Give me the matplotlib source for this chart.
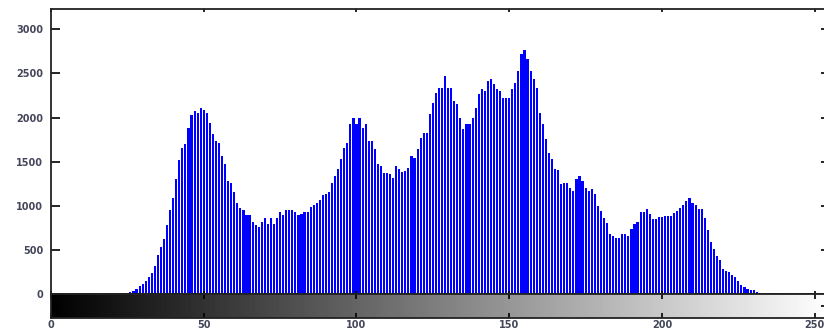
import numpy as np
import matplotlib
matplotlib.use('Agg')
import matplotlib.pyplot as plt

# histogram counts for gray levels 0..255
counts = [
    0, 0, 0, 0, 0, 0, 0, 0, 0, 0, 0, 0, 0, 0, 0, 0,
    0, 0, 0, 0, 2, 3, 4, 6, 8, 12, 25, 35, 60, 86, 112, 150,
    195, 240, 320, 437, 532, 627, 779, 949, 1090, 1298, 1518, 1659, 1696, 1886, 2026, 2075,
    2056, 2113, 2086, 2056, 1943, 1810, 1735, 1716, 1565, 1470, 1280, 1253, 1158, 1026, 970, 950,
    893, 893, 818, 780, 761, 818, 856, 799, 856, 799, 856, 931, 890, 950, 950, 950,
    931, 893, 912, 931, 931, 988, 1007, 1026, 1064, 1120, 1139, 1155, 1253, 1336, 1412, 1526,
    1659, 1716, 1923, 1990, 1925, 1995, 1886, 1923, 1734, 1734, 1640, 1469, 1450, 1374, 1374, 1355,
    1318, 1450, 1412, 1382, 1390, 1431, 1563, 1545, 1640, 1772, 1829, 1829, 2037, 2170, 2283, 2340,
    2330, 2472, 2340, 2340, 2188, 2151, 2000, 1866, 1923, 1923, 2000, 2113, 2264, 2321, 2302, 2416,
    2434, 2378, 2321, 2302, 2227, 2227, 2227, 2321, 2397, 2529, 2718, 2768, 2662, 2529, 2434, 2340,
    2056, 1923, 1753, 1602, 1526, 1412, 1400, 1242, 1261, 1261, 1204, 1166, 1298, 1336, 1280, 1204,
    1166, 1185, 1128, 995, 938, 863, 806, 685, 662, 636, 636, 685, 675, 662, 738, 799,
    818, 931, 931, 969, 912, 855, 855, 875, 875, 889, 889, 889, 920, 939, 977, 1014,
    1052, 1090, 1026, 1014, 969, 969, 863, 730, 591, 515, 427, 390, 284, 265, 250, 219,
    193, 151, 106, 80, 57, 49, 41, 26, 12, 10, 8, 10, 6, 8, 5, 6,
    8, 4, 5, 6, 3, 5, 4, 5, 3, 2, 3, 0, 0, 0, 0, 0,
]
levels = np.arange(256)
y_ticks = [0, 500, 1000, 1500, 2000, 2500, 3000]
x_ticks = [0, 50, 100, 150, 200, 250]

W, H = 824, 329
fig = plt.figure(figsize=(W / 100, H / 100), dpi=100)

left = 51 / W
width = (830 - 51) / W
ax = fig.add_axes([left, (H - 294) / H, width, (294 - 9) / H])
cb = fig.add_axes([left, (H - 318) / H, width, 24 / H])

ax.bar(levels, counts, width=0.7, color='#0000ff', linewidth=0)
ax.axhline(0, color='#0000ff', lw=1)
ax.set_xlim(0, 255)
ax.set_ylim(0, 3230)
ax.set_yticks(y_ticks)
ax.set_xticks(x_ticks)
ax.set_xticklabels([])
ax.tick_params(axis='y', direction='in', length=6.5, width=1.2, right=True,
               labelsize=7, labelcolor='#44465a', pad=5.5)
ax.tick_params(axis='x', direction='in', length=2.5, width=1.2, top=True)
for lab in ax.get_yticklabels():
    lab.set_fontweight('bold')
for s in ax.spines.values():
    s.set_linewidth(1.3)
    s.set_color('#222222')

# gray-level strip under the histogram
grad = np.linspace(0, 1, 256)[None, :]
cb.imshow(grad, aspect='auto', cmap='gray', extent=[0, 255, 0, 1], vmin=0, vmax=1)
cb.set_xlim(0, 255)
cb.set_ylim(0, 1)
cb.set_xticks(x_ticks)
cb.set_yticks([0.5])
cb.set_yticklabels([])
cb.tick_params(axis='x', direction='in', length=3.5, width=1.2, top=True,
               labelsize=7, labelcolor='#44465a', pad=1.5)
cb.tick_params(axis='y', direction='in', length=6.5, width=1.2, right=True)
for lab in cb.get_xticklabels():
    lab.set_fontweight('bold')
for s in cb.spines.values():
    s.set_linewidth(1.3)
    s.set_color('#222222')

fig.savefig('out.png', dpi=100)
